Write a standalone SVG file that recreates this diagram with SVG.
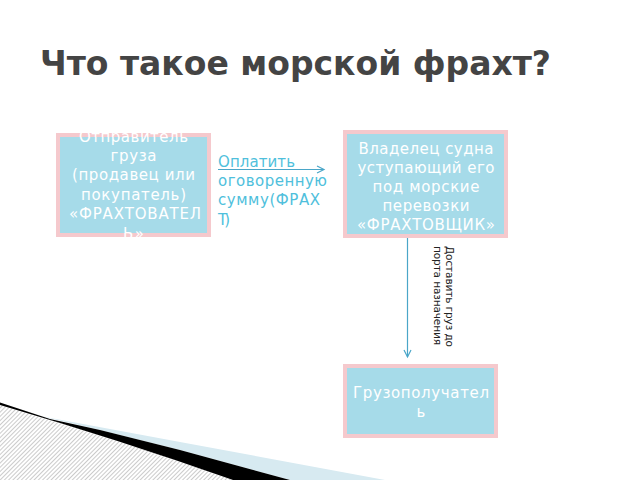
<svg xmlns="http://www.w3.org/2000/svg" width="640" height="480" viewBox="0 0 640 480">
<style>
.title{font-family:"DejaVu Sans","Liberation Sans",sans-serif;font-weight:bold;font-size:33px;fill:#444444}
.box{fill:#a6dbe9;stroke:#f5c9cd;stroke-width:4}
.bt{font-family:"DejaVu Sans","Liberation Sans",sans-serif;font-size:15px;fill:#ffffff;text-anchor:middle}
.lbl{font-family:"DejaVu Sans","Liberation Sans",sans-serif;font-size:15px;fill:#4fbfdc}
.vl{font-family:"DejaVu Sans","Liberation Sans",sans-serif;font-size:10.5px;fill:#222222}
.conn{stroke:#4aa6c8;stroke-width:1.2;fill:none}
</style>
<defs>
<marker id="arr" markerWidth="10" markerHeight="10" refX="8" refY="5" orient="auto" markerUnits="userSpaceOnUse">
<path d="M1,1.5 L8,5 L1,8.5" fill="none" stroke="#4aa6c8" stroke-width="1.2"/>
</marker>
<pattern id="hatch" width="3" height="3" patternUnits="userSpaceOnUse" patternTransform="rotate(45)">
<rect width="3" height="3" fill="#ffffff"/>
<line x1="0" y1="0" x2="0" y2="3" stroke="#a8a8a8" stroke-width="1.2"/>
</pattern>
</defs>
<rect width="640" height="480" fill="#ffffff"/>

<g id="decor">
<path d="M0,405 Q120,440 233,480 L0,480 Z" fill="url(#hatch)"/>
<path d="M40,416 L180,442 L385,480 L290,480 L180,450 L100,430 Z" fill="#d7eaf1"/>
<path d="M0,402.5 L50,419 L100,430 L180,450 L290,480 L233,480 Q120,440 0,405 Z" fill="#000000"/>
</g>

<text class="title" x="40" y="75">Что такое морской фрахт?</text>

<g id="connectors">
<line class="conn" x1="218" y1="169.5" x2="324" y2="169.5" marker-end="url(#arr)"/>
<line class="conn" x1="407.5" y1="238" x2="407.5" y2="357" marker-end="url(#arr)"/>
<g id="label-pay">
<text class="lbl" x="218" y="167" textLength="77" lengthAdjust="spacing">Оплатить</text>
<text class="lbl" x="218" y="186" textLength="109" lengthAdjust="spacing">оговоренную</text>
<text class="lbl" x="218" y="205" textLength="102" lengthAdjust="spacing">сумму(ФРАХ</text>
<text class="lbl" x="218" y="224.5" textLength="12" lengthAdjust="spacing">Т)</text>
</g>
<g id="label-deliver">
<text class="vl" transform="translate(446,246) rotate(90)" textLength="101" lengthAdjust="spacing">Доставить груз до</text>
<text class="vl" transform="translate(434,246) rotate(90)" textLength="99" lengthAdjust="spacing">порта назначения</text>
</g>
</g>

<g id="node-shipper">
<rect class="box" x="58" y="135" width="151" height="100"/>
<text class="bt" x="133.5" y="141.5" textLength="109" lengthAdjust="spacing">Отправитель</text>
<text class="bt" x="133.5" y="160.5" textLength="46" lengthAdjust="spacing">груза</text>
<text class="bt" x="133.5" y="180" textLength="123" lengthAdjust="spacing">(продавец или</text>
<text class="bt" x="133.5" y="199.5" textLength="105" lengthAdjust="spacing">покупатель)</text>
<text class="bt" x="135" y="219" textLength="132" lengthAdjust="spacing">«ФРАХТОВАТЕЛ</text>
<text class="bt" x="133.5" y="238.5" textLength="21" lengthAdjust="spacing">Ь»</text>
</g>

<g id="node-owner">
<rect class="box" x="345" y="132" width="161" height="104"/>
<text class="bt" x="426" y="154" textLength="135" lengthAdjust="spacing">Владелец судна</text>
<text class="bt" x="426" y="173" textLength="137" lengthAdjust="spacing">уступающий его</text>
<text class="bt" x="426" y="192" textLength="107" lengthAdjust="spacing">под морские</text>
<text class="bt" x="426" y="211" textLength="87" lengthAdjust="spacing">перевозки</text>
<text class="bt" x="426" y="230" textLength="138" lengthAdjust="spacing">«ФРАХТОВЩИК»</text>
</g>

<g id="node-consignee">
<rect class="box" x="345" y="366" width="151" height="70"/>
<text class="bt" x="421" y="398" textLength="136" lengthAdjust="spacing">Грузополучател</text>
<text class="bt" x="421" y="417">ь</text>
</g>
</svg>
